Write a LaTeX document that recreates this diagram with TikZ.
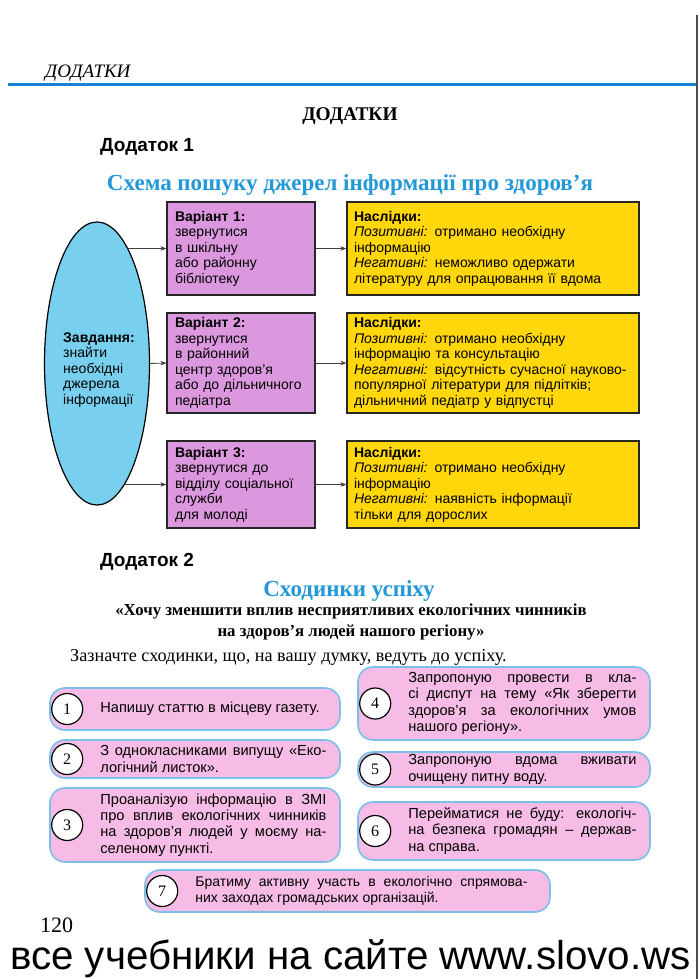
\documentclass[tikz,border=0pt]{standalone}
\usepackage{fontspec}
\setmainfont{Liberation Serif}
\setsansfont{Liberation Sans}
\usepackage{tikz}
\usetikzlibrary{arrows.meta, positioning, shapes.geometric}
\definecolor{skyfill}{RGB}{120,208,238}
\definecolor{violetbox}{RGB}{220,152,222}
\definecolor{yellowbox}{RGB}{255,215,10}
\definecolor{pinkbox}{RGB}{246,188,230}
\definecolor{pinkline}{RGB}{122,192,232}
\definecolor{titleblue}{RGB}{34,152,216}
\definecolor{rulerblue}{RGB}{22,132,212}
\hyphenpenalty=10000
\newcommand\boxfont{\sffamily\fontsize{14}{15.5}\selectfont}
\newcommand\stepfont{\sffamily\fontsize{14.6}{16.2}\selectfont}
\tikzstyle{variant} = [rectangle, draw=black!85, line width=1.2pt, fill=violetbox,
                       minimum width=148, text width=132, inner xsep=8, align=left, font=\boxfont]
\tikzstyle{result}  = [rectangle, draw=black!85, line width=1.2pt, fill=yellowbox,
                       minimum width=292, text width=278, inner xsep=7, align=left, font=\boxfont]
\tikzstyle{arr}     = [-{Stealth[length=6pt, width=4.5pt]}, line width=0.8pt, black!75]

\begin{document}
\begin{tikzpicture}[x=1pt, y=-1pt,
      stepbox/.style={rectangle, rounded corners=15, draw=pinkline, line width=1.6pt, fill=pinkbox},
      num/.style={circle, draw=black, line width=1.2pt, fill=white, minimum size=31, inner sep=0,
                  font=\fontsize{16}{16}\selectfont},
      steptext/.style={anchor=west, inner sep=0, align=justify, font=\stepfont},
    ]
    \useasboundingbox (0,0) rectangle (700,979);
    \fill[white] (0,0) rectangle (700,979);

    % page head
    \node[anchor=west, font=\itshape\fontsize{19}{19}\selectfont, inner sep=0] (head) at (45,73) {ДОДАТКИ};
    \draw[rulerblue, line width=3pt] (8,85) -- (697,85);
    \draw[black!70, line width=1.5pt] (697,15) -- (697,979);

    \node[font=\bfseries\fontsize{19.4}{19.4}\selectfont] (title) at (350,116) {ДОДАТКИ};
    \node[anchor=west, inner sep=0, font=\sffamily\bfseries\fontsize{19}{19}\selectfont] (add1) at (100,147) {Додаток 1};
    \node[font=\bfseries\fontsize{23}{23}\selectfont, text=titleblue] (scheme) at (350,185)
      {Схема пошуку джерел інформації про здоров’я};

    % task and variants
    \node[ellipse, draw=black, line width=1.2pt, fill=skyfill, minimum width=105, minimum height=283,
          inner sep=0] (task) at (97,363.5) {};
    \node[align=left, font=\boxfont, inner sep=0] (taskText) at (99,370)
      {\textbf{Завдання:}\\знайти\\необхідні\\джерела\\інформації};

    \node[variant, minimum height=93] (v1) at (241,248.5)
      {\textbf{Варіант 1:}\\звернутися\\в шкільну\\або районну\\бібліотеку};
    \node[variant, minimum height=100] (v2) at (241,363)
      {\textbf{Варіант 2:}\\звернутися\\в районний\\центр здоров'я\\або до дільничного\\педіатра};
    \node[variant, minimum height=87] (v3) at (241,484.5)
      {\textbf{Варіант 3:}\\звернутися до\\відділу соціальної\\служби\\для молоді};

    \node[result, minimum height=93] (r1) at (493,248.5)
      {\textbf{Наслідки:}\\\textit{Позитивні:} отримано необхідну\\інформацію\\
       \textit{Негативні:} неможливо одержати\\літературу для опрацювання її вдома};
    \node[result, minimum height=100] (r2) at (493,363)
      {\textbf{Наслідки:}\\\textit{Позитивні:} отримано необхідну\\інформацію та консультацію\\
       \textit{Негативні:} відсутність сучасної науково-\\популярної літератури для підлітків;\\
       дільничний педіатр у відпустці};
    \node[result, minimum height=87] (r3) at (493,484.5)
      {\textbf{Наслідки:}\\\textit{Позитивні:} отримано необхідну\\інформацію\\
       \textit{Негативні:} наявність інформації\\тільки для дорослих};

    \draw[arr] (v1.west -| task.75) -- (v1.west);
    \draw[arr] (task.east) -- (v2.west);
    \draw[arr] (v3.west -| task.-77) -- (v3.west);
    \draw[arr] (v1) -- (r1);
    \draw[arr] (v2) -- (r2);
    \draw[arr] (v3) -- (r3);

    % steps of success
    \node[anchor=west, inner sep=0, font=\sffamily\bfseries\fontsize{19}{19}\selectfont] (add2) at (100,562) {Додаток 2};
    \node[font=\bfseries\fontsize{23}{23}\selectfont, text=titleblue] (steps) at (349,591) {Сходинки успіху};
    \node[align=center, font=\bfseries\fontsize{16.8}{21}\selectfont] (quote) at (351,621.5)
      {«Хочу зменшити вплив несприятливих екологічних чинників\\на здоров’я людей нашого регіону»};
    \node[anchor=west, inner sep=0, font=\fontsize{18.2}{18.2}\selectfont] (task2) at (70,657)
      {Зазначте сходинки, що, на вашу думку, ведуть до успіху.};

    \node[stepbox, minimum width=290, minimum height=42] (s1) at (195,709) {};
    \node[stepbox, minimum width=290, minimum height=38] (s2) at (195,759) {};
    \node[stepbox, minimum width=290, minimum height=74] (s3) at (195,825) {};
    \node[stepbox, minimum width=292, minimum height=73] (s4) at (504,703.5) {};
    \node[stepbox, minimum width=292, minimum height=35] (s5) at (504,769.5) {};
    \node[stepbox, minimum width=292, minimum height=58] (s6) at (504,831) {};
    \node[stepbox, minimum width=405, minimum height=42] (s7) at (347.5,891) {};

    \foreach \i in {1,...,7}
      \node[num] (n\i) at ([xshift=18]s\i.west) {\i};

    \node[steptext, text width=226] (t1) at ([xshift=51]s1.west)
      {Напишу статтю в місцеву газету.};
    \node[steptext, text width=226] (t2) at ([xshift=51]s2.west)
      {З однокласниками випущу «Еко-\linebreak логічний листок».};
    \node[steptext, text width=226] (t3) at ([xshift=51]s3.west)
      {Проаналізую інформацію в ЗМІ\linebreak про вплив екологічних чинників\linebreak
       на здоров'я людей у моєму на-\linebreak селеному пункті.};
    \node[steptext, text width=228] (t4) at ([xshift=51]s4.west)
      {Запропоную провести в кла-\linebreak сі диспут на тему «Як зберегти\linebreak
       здоров'я за екологічних умов\linebreak нашого регіону».};
    \node[steptext, text width=228] (t5) at ([xshift=51]s5.west)
      {Запропоную вдома вживати\linebreak очищену питну воду.};
    \node[steptext, text width=228] (t6) at ([xshift=51]s6.west)
      {Перейматися не буду: екологіч-\linebreak на безпека громадян – держав-\linebreak на справа.};
    \node[steptext, text width=332, font=\sffamily\fontsize{14}{16}\selectfont] (t7) at ([xshift=51]s7.west)
      {Братиму активну участь в екологічно спрямова-\linebreak них заходах громадських організацій.};

    % page foot
    \node[anchor=west, inner sep=0, font=\fontsize{22}{22}\selectfont] (page) at (40,925) {120};
    \node[anchor=base west, inner sep=0, text height=29, text depth=8,
          font=\sffamily\fontsize{40.3}{40.3}\selectfont] (footer) at (10,969)
      {все учебники на сайте www.slovo.ws};
  \end{tikzpicture}
\end{document}
